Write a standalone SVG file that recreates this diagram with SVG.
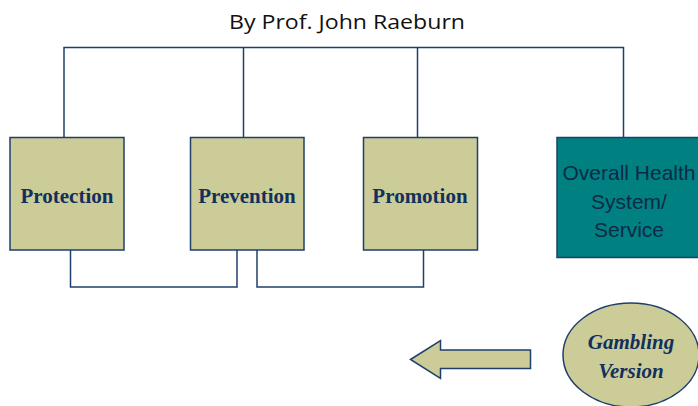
<svg xmlns="http://www.w3.org/2000/svg" width="698" height="406" viewBox="0 0 698 406">
<style>
.box{fill:#cccc99;stroke:#1f3f6b;stroke-width:1.5}
.lbl{font-family:"Liberation Serif","Times New Roman",serif;font-weight:bold;font-size:21px;fill:#12305c;text-anchor:middle}
.conn{fill:none;stroke:#1f3f6b;stroke-width:1.5}
.sans{font-family:"Liberation Sans",Arial,sans-serif;font-size:21px;fill:#0c2a4a;text-anchor:middle}
</style>
<rect width="698" height="406" fill="#ffffff"/>
<text x="347" y="29" font-family="'Open Sans','Liberation Sans',sans-serif" font-size="20" fill="#111" text-anchor="middle" textLength="236" lengthAdjust="spacingAndGlyphs">By Prof. John Raeburn</text>
<g id="connectors">
<polyline class="conn" points="64,137 64,47.5 623.5,47.5 623.5,137"/>
<line class="conn" x1="243.5" y1="47.5" x2="243.5" y2="137"/>
<line class="conn" x1="417.5" y1="47.5" x2="417.5" y2="137"/>
<polyline class="conn" points="70.5,250 70.5,287 237,287 237,250"/>
<polyline class="conn" points="257,250 257,287 423.5,287 423.5,250"/>
</g>
<g id="protection">
<rect class="box" x="10" y="137.5" width="114" height="112.5"/>
<text class="lbl" x="67" y="203">Protection</text>
</g>
<g id="prevention">
<rect class="box" x="190.5" y="137.5" width="113.5" height="112.5"/>
<text class="lbl" x="247" y="203">Prevention</text>
</g>
<g id="promotion">
<rect class="box" x="363.5" y="137.5" width="114" height="112.5"/>
<text class="lbl" x="420" y="203">Promotion</text>
</g>
<g id="overall">
<rect x="557" y="137.5" width="150" height="120" fill="#008080" stroke="#1f3f6b" stroke-width="1.5"/>
<text class="sans" x="629" y="180">Overall Health</text>
<text class="sans" x="629" y="209">System/</text>
<text class="sans" x="629" y="237">Service</text>
</g>
<g id="arrow">
<polygon points="410.5,359.5 440.5,340.5 440.5,350 530.5,350 530.5,368.5 440.5,368.5 440.5,378.5" fill="#cccc99" stroke="#1f3f6b" stroke-width="1.5"/>
</g>
<g id="gambling">
<ellipse cx="631" cy="355" rx="68" ry="52" fill="#cccc99" stroke="#1f3f6b" stroke-width="1.5"/>
<text x="631" y="349" font-family="'Liberation Serif','Times New Roman',serif" font-weight="bold" font-style="italic" font-size="21" fill="#12305c" text-anchor="middle">Gambling</text>
<text x="631" y="378" font-family="'Liberation Serif','Times New Roman',serif" font-weight="bold" font-style="italic" font-size="21" fill="#12305c" text-anchor="middle">Version</text>
</g>
</svg>
